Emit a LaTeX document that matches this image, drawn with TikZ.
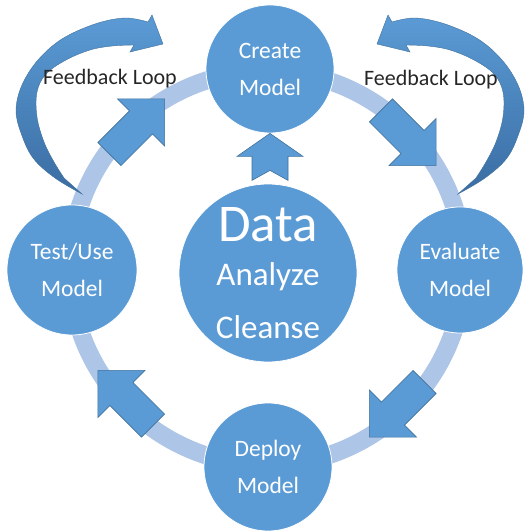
\documentclass[tikz,border=0pt]{standalone}
\usepackage{fontspec}
\setmainfont{Carlito}
\usetikzlibrary{shapes.arrows,calc}

\definecolor{stageblue}{HTML}{5B9BD5}
\definecolor{edgeblue}{HTML}{41719C}
\definecolor{deepblue}{HTML}{3A6DA3}
\definecolor{ringblue}{HTML}{ADC5E7}
\definecolor{loopgray}{HTML}{262626}

\tikzset{
  stage/.style={circle, fill=stageblue, draw=white, line width=0.8pt, text=white,
    align=center, inner sep=0pt, font=\fontsize{23.5}{37}\selectfont},
  ringarrow/.style={single arrow, fill=stageblue, draw=edgeblue, line width=0.6pt,
    inner xsep=0pt, inner ysep=16pt, minimum height=78pt,
    single arrow head extend=17pt, single arrow tip angle=90},
  uparrow/.style={fill=stageblue, draw=edgeblue, line width=0.6pt},
  loopshade/.style={top color=stageblue, bottom color=deepblue, draw=edgeblue, line width=0.4pt},
  looptext/.style={text=loopgray, font=\fontsize{22}{26}\selectfont}
}

\begin{document}
\begin{tikzpicture}[x=1pt,y=1pt]
\useasboundingbox (0,0) rectangle (527,532);

% ring
\coordinate (ringc) at (267,264);
\draw[ringblue, line width=18pt] (ringc) circle[radius=197];

% feedback loops, right one mirrored
\foreach \s/\m in {0/1, 540/-1}{
  \begin{scope}[shift={(\s,0)}, xscale=\m]
  \shade[loopshade] plot[smooth, tension=0.6] coordinates {(82,338) (55,354) (33,374)
      (21,399) (16,422) (22,447) (38,472) (62,493) (95,508) (125,514) (148,510)}
    -- (152,517) -- (163,488) -- (130,480)
    -- plot[smooth, tension=0.6] coordinates {(134,487) (112,486) (90,482) (66,472)
      (46,458) (37,440) (37,415) (44,390) (54,370) (64,354)} -- cycle;
  \end{scope}
}

% stages
\node[stage, minimum size=128pt] (create) at (270,463) {Create\\Model};
\node[stage, minimum size=130pt] (test) at (72,262) {Test/Use\\Model};
\node[stage, minimum size=126pt] (evaluate) at (460,262) {Evaluate\\Model};
\node[stage, minimum size=128pt] (deploy) at (268,65) {Deploy\\Model};
\node[stage, minimum size=178pt, font=\fontsize{33}{53}\selectfont] (data) at (268,259)
  {{\fontsize{53}{44}\selectfont Data}\\[-9pt]Analyze\\Cleanse};

% arrows on the ring
\foreach \a/\n in {135/tl, 45/tr, -45/br, 225/bl}
  \node[ringarrow, rotate=\a-90] (arrow\n) at ($(ringc)+(\a:192)$) {};

% data to create
\draw[uparrow] (create.south) -- ++(33,-23) -- ++(-15,0) -- ++(0,-24) -- ++(-18,10)
  -- ++(-18,-10) -- ++(0,24) -- ++(-15,0) -- cycle;

% labels
\node[looptext] (loopleft) at (110,453) {Feedback Loop};
\node[looptext] (loopright) at (431,452) {Feedback Loop};
\end{tikzpicture}
\end{document}
